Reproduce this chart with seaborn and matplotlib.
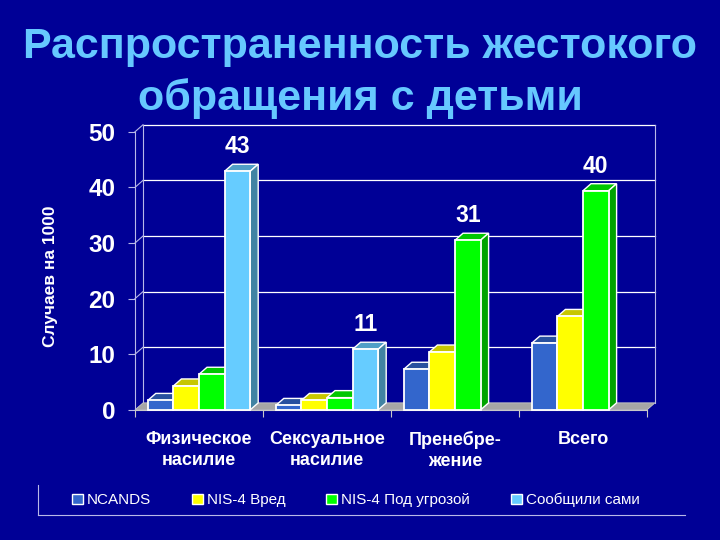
import numpy as np
import pandas as pd
import matplotlib
matplotlib.use("Agg")
import matplotlib.pyplot as plt
import matplotlib.colors as mcolors
from matplotlib.patches import Polygon, Patch
from matplotlib.lines import Line2D
import seaborn as sns

# data
categories = ["Физическое\nнасилие", "Сексуальное\nнасилие", "Пренебре-\nжение", "Всего"]
series = ["NCANDS", "NIS-4 Вред", "NIS-4 Под угрозой", "Сообщили сами"]
ncands = [1.7, 0.8, 7.3, 12.0]
nis4_harm = [4.3, 1.7, 10.4, 16.8]
nis4_endangered = [6.4, 2.2, 30.5, 39.4]
self_report = [42.9, 10.9, np.nan, np.nan]
value_labels = ["43", "11", "31", "40"]
label_series = ["Сообщили сами", "Сообщили сами", "NIS-4 Под угрозой", "NIS-4 Под угрозой"]
yticks = [0, 10, 20, 30, 40, 50]

colors = ["#3366CC", "#FFFF00", "#00FF00", "#66CCFF"]
bg = "#000096"
title_color = "#66C8FF"
line_color = "#B8B8E8"

plt.rcParams['font.family'] = ['Liberation Sans', 'DejaVu Sans']

rows = []
for s, vals in zip(series, [ncands, nis4_harm, nis4_endangered, self_report]):
    for c, v in zip(categories, vals):
        rows.append({"category": c, "series": s, "value": v})
df = pd.DataFrame(rows).dropna()

fig = plt.figure(figsize=(7.2, 5.4), dpi=100, facecolor=bg)
ax = fig.add_axes([0.1875, 0.241, 0.7111, 0.515])
ax.set_facecolor("none")

sns.barplot(data=df, x="category", y="value", hue="series", order=categories,
            hue_order=series, palette=colors, saturation=1, errorbar=None,
            edgecolor="white", linewidth=1.3, legend=False, ax=ax)

bars = [p for p in ax.patches if p.get_height() > 0]
bars.sort(key=lambda p: p.get_x())

ax.set_xlim(-0.5, 3.5)
ax.set_ylim(0, 50)

# depth of the fake 3D, in data units
depth_px_x, depth_px_y = 8, 7
ax_w = 0.7111 * 720
ax_h = 0.515 * 540
ddx = depth_px_x / ax_w * 4
ddy = depth_px_y / ax_h * 50

# floor
floor = Polygon([(-0.5, 0), (3.5, 0), (3.5 + ddx, ddy), (-0.5 + ddx, ddy)],
                closed=True, facecolor="#A6A6A6", edgecolor="#C8C8C8", lw=0.6,
                zorder=1.5, clip_on=False)
ax.add_patch(floor)

# back wall grid and walls
for y in yticks[1:]:
    ax.plot([-0.5 + ddx, 3.5 + ddx], [y + ddy, y + ddy], color="white", lw=0.9,
            zorder=1, clip_on=False)
    ax.plot([-0.5, -0.5 + ddx], [y, y + ddy], color=line_color, lw=0.8,
            zorder=1, clip_on=False)
ax.plot([-0.5 + ddx, -0.5 + ddx], [ddy, 50 + ddy], color=line_color, lw=0.8,
        zorder=1, clip_on=False)
ax.plot([3.5 + ddx, 3.5 + ddx], [ddy, 50 + ddy], color=line_color, lw=0.8,
        zorder=1, clip_on=False)

# 3D faces on the bars
for i, p in enumerate(bars):
    x0, w, h = p.get_x(), p.get_width(), p.get_height()
    rgb = np.array(mcolors.to_rgb(p.get_facecolor()))
    base = 3 + i * 0.1
    top = Polygon([(x0, h), (x0 + w, h), (x0 + w + ddx, h + ddy), (x0 + ddx, h + ddy)],
                  closed=True, facecolor=rgb * 0.78, edgecolor="white", lw=1.0,
                  zorder=base, clip_on=False)
    side = Polygon([(x0 + w, 0), (x0 + w + ddx, ddy), (x0 + w + ddx, h + ddy), (x0 + w, h)],
                   closed=True, facecolor=rgb * 0.64, edgecolor="white", lw=1.0,
                   zorder=base, clip_on=False)
    ax.add_patch(top)
    ax.add_patch(side)
    p.set_zorder(base + 0.05)
    p.set_clip_on(False)

# value labels
n = len(series)
width = 0.8 / n
all_vals = [ncands, nis4_harm, nis4_endangered, self_report]
for ci, (lab, s) in enumerate(zip(value_labels, label_series)):
    si = series.index(s)
    xc = ci - 0.4 + width * (si + 0.5)
    ax.text(xc, all_vals[si][ci] + ddy + 2.0, lab, ha="center", va="baseline",
            fontsize=16.5, fontweight="bold", color="white", zorder=10)

# axes styling
for s in ["top", "right"]:
    ax.spines[s].set_visible(False)
ax.spines["left"].set_color(line_color)
ax.spines["left"].set_linewidth(0.8)
ax.spines["bottom"].set_color("#C8C8C8")
ax.spines["bottom"].set_linewidth(0.8)

ax.set_yticks(yticks)
ax.tick_params(axis="y", colors=line_color, length=5, width=0.8, pad=9,
               labelsize=17.5, labelcolor="white")
for t in ax.get_yticklabels():
    t.set_fontweight("bold")

ax.set_xticks(range(len(categories)))
ax.set_xticklabels(categories)
ax.set_xticks([-0.5, 0.5, 1.5, 2.5, 3.5], minor=True)
ax.tick_params(axis="x", which="major", length=0, pad=15, labelsize=13,
               labelcolor="white")
ax.tick_params(axis="x", which="minor", length=5, width=0.8, colors="#C8C8C8",
               direction="out")
for t in ax.get_xticklabels():
    t.set_fontweight("bold")
    t.set_linespacing(1.3)

ax.set_xlabel("")
ax.set_ylabel("Случаев на 1000", color="white", fontsize=12.5, fontweight="bold")
ax.yaxis.set_label_coords(-0.150, 0.48)

# title
fig.text(0.5, 0.865, "Распространенность жестокого\nобращения с детьми",
         ha="center", va="center", fontsize=31, fontweight="bold",
         color=title_color, linespacing=1.33)

# legend
handles = [Patch(facecolor=c, edgecolor="white", lw=1.0) for c in colors]
leg = fig.legend(handles, series, loc="center", bbox_to_anchor=(0.494, 0.074),
                 ncol=4, frameon=False, fontsize=11, labelcolor="white",
                 handlelength=0.7, handleheight=0.7, handletextpad=0.25,
                 columnspacing=2.7)
fig.add_artist(Line2D([0.053, 0.053], [0.046, 0.102], transform=fig.transFigure,
                      color=line_color, lw=0.8))
fig.add_artist(Line2D([0.053, 0.951], [0.046, 0.046], transform=fig.transFigure,
                      color=line_color, lw=0.8))

fig.savefig("out.png", dpi=100, facecolor=bg)
